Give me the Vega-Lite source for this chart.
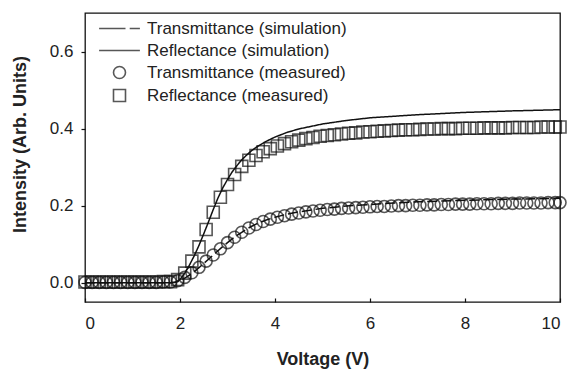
{
  "$schema": "https://vega.github.io/schema/vega-lite/v6.json",
  "width": 475,
  "height": 289,
  "autosize": {"type": "none"},
  "padding": {"left": 85, "top": 13, "right": 10, "bottom": 70},
  "background": "white",
  "config": {
    "font": "Liberation Sans",
    "view": {"stroke": "#111", "strokeWidth": 1.3},
    "axis": {
      "grid": false,
      "domain": false,
      "tickColor": "#111",
      "tickWidth": 1.2,
      "labelColor": "#222",
      "titleColor": "#222",
      "labelFont": "Liberation Sans",
      "titleFont": "Liberation Sans",
      "labelFontSize": 17,
      "labelFontWeight": "normal",
      "titleFontSize": 18,
      "titleFontWeight": "bold"
    },
    "legend": {
      "labelFont": "Liberation Sans",
      "labelFontSize": 17,
      "labelColor": "#222",
      "labelLimit": 0
    }
  },
  "datasets": {
    "sim": [
      {"v": 0, "Ts": 0, "Rs": 0},
      {"v": 1.8, "Ts": 0, "Rs": 0},
      {"v": 1.9, "Ts": 0.001, "Rs": 0.001},
      {"v": 2.0, "Ts": 0.005, "Rs": 0.008},
      {"v": 2.1, "Ts": 0.012, "Rs": 0.025},
      {"v": 2.2, "Ts": 0.02, "Rs": 0.046},
      {"v": 2.3, "Ts": 0.029, "Rs": 0.07},
      {"v": 2.4, "Ts": 0.039, "Rs": 0.097},
      {"v": 2.5, "Ts": 0.05, "Rs": 0.127},
      {"v": 2.6, "Ts": 0.061, "Rs": 0.158},
      {"v": 2.7, "Ts": 0.072, "Rs": 0.19},
      {"v": 2.8, "Ts": 0.083, "Rs": 0.22},
      {"v": 2.9, "Ts": 0.094, "Rs": 0.246},
      {"v": 3.0, "Ts": 0.104, "Rs": 0.268},
      {"v": 3.1, "Ts": 0.114, "Rs": 0.288},
      {"v": 3.2, "Ts": 0.123, "Rs": 0.304},
      {"v": 3.3, "Ts": 0.131, "Rs": 0.319},
      {"v": 3.4, "Ts": 0.139, "Rs": 0.331},
      {"v": 3.5, "Ts": 0.146, "Rs": 0.342},
      {"v": 3.6, "Ts": 0.152, "Rs": 0.351},
      {"v": 3.8, "Ts": 0.162, "Rs": 0.366},
      {"v": 4.0, "Ts": 0.17, "Rs": 0.378},
      {"v": 4.25, "Ts": 0.178, "Rs": 0.39},
      {"v": 4.5, "Ts": 0.184, "Rs": 0.399},
      {"v": 5.0, "Ts": 0.193, "Rs": 0.412},
      {"v": 5.5, "Ts": 0.199, "Rs": 0.421},
      {"v": 6.0, "Ts": 0.203, "Rs": 0.428},
      {"v": 6.5, "Ts": 0.207, "Rs": 0.432},
      {"v": 7.0, "Ts": 0.21, "Rs": 0.436},
      {"v": 8.0, "Ts": 0.214, "Rs": 0.442},
      {"v": 9.0, "Ts": 0.217, "Rs": 0.446},
      {"v": 10.0, "Ts": 0.219, "Rs": 0.449}
    ],
    "meas": [
      {"v": 0.0, "T": 0.001, "R": 0.002},
      {"v": 0.15, "T": 0.001, "R": 0.002},
      {"v": 0.3, "T": 0.001, "R": 0.002},
      {"v": 0.45, "T": 0.001, "R": 0.002},
      {"v": 0.6, "T": 0.001, "R": 0.002},
      {"v": 0.75, "T": 0.001, "R": 0.002},
      {"v": 0.9, "T": 0.001, "R": 0.002},
      {"v": 1.05, "T": 0.001, "R": 0.002},
      {"v": 1.2, "T": 0.001, "R": 0.002},
      {"v": 1.35, "T": 0.001, "R": 0.002},
      {"v": 1.5, "T": 0.001, "R": 0.002},
      {"v": 1.65, "T": 0.002, "R": 0.003},
      {"v": 1.8, "T": 0.002, "R": 0.003},
      {"v": 1.95, "T": 0.005, "R": 0.008},
      {"v": 2.1, "T": 0.014, "R": 0.025},
      {"v": 2.25, "T": 0.026, "R": 0.056},
      {"v": 2.4, "T": 0.04, "R": 0.093},
      {"v": 2.55, "T": 0.056, "R": 0.138},
      {"v": 2.7, "T": 0.072, "R": 0.183},
      {"v": 2.85, "T": 0.088, "R": 0.222},
      {"v": 3.0, "T": 0.104, "R": 0.255},
      {"v": 3.15, "T": 0.118, "R": 0.281},
      {"v": 3.3, "T": 0.131, "R": 0.302},
      {"v": 3.45, "T": 0.142, "R": 0.318},
      {"v": 3.6, "T": 0.151, "R": 0.33},
      {"v": 3.75, "T": 0.159, "R": 0.34},
      {"v": 3.9, "T": 0.165, "R": 0.348},
      {"v": 4.05, "T": 0.17, "R": 0.355},
      {"v": 4.2, "T": 0.174, "R": 0.361},
      {"v": 4.35, "T": 0.178, "R": 0.366},
      {"v": 4.5, "T": 0.181, "R": 0.37},
      {"v": 4.65, "T": 0.184, "R": 0.374},
      {"v": 4.8, "T": 0.186, "R": 0.377},
      {"v": 4.95, "T": 0.188, "R": 0.38},
      {"v": 5.1, "T": 0.19, "R": 0.382},
      {"v": 5.25, "T": 0.191, "R": 0.384},
      {"v": 5.4, "T": 0.193, "R": 0.386},
      {"v": 5.55, "T": 0.194, "R": 0.388},
      {"v": 5.7, "T": 0.195, "R": 0.389},
      {"v": 5.85, "T": 0.196, "R": 0.391},
      {"v": 6.0, "T": 0.197, "R": 0.392},
      {"v": 6.15, "T": 0.198, "R": 0.393},
      {"v": 6.3, "T": 0.198, "R": 0.394},
      {"v": 6.45, "T": 0.199, "R": 0.395},
      {"v": 6.6, "T": 0.2, "R": 0.396},
      {"v": 6.75, "T": 0.2, "R": 0.397},
      {"v": 6.9, "T": 0.201, "R": 0.397},
      {"v": 7.05, "T": 0.201, "R": 0.398},
      {"v": 7.2, "T": 0.202, "R": 0.399},
      {"v": 7.35, "T": 0.202, "R": 0.399},
      {"v": 7.5, "T": 0.203, "R": 0.4},
      {"v": 7.65, "T": 0.203, "R": 0.4},
      {"v": 7.8, "T": 0.204, "R": 0.4},
      {"v": 7.95, "T": 0.204, "R": 0.401},
      {"v": 8.1, "T": 0.204, "R": 0.401},
      {"v": 8.25, "T": 0.205, "R": 0.401},
      {"v": 8.4, "T": 0.205, "R": 0.402},
      {"v": 8.55, "T": 0.205, "R": 0.402},
      {"v": 8.7, "T": 0.206, "R": 0.402},
      {"v": 8.85, "T": 0.206, "R": 0.402},
      {"v": 9.0, "T": 0.206, "R": 0.403},
      {"v": 9.15, "T": 0.207, "R": 0.403},
      {"v": 9.3, "T": 0.207, "R": 0.403},
      {"v": 9.45, "T": 0.207, "R": 0.403},
      {"v": 9.6, "T": 0.207, "R": 0.404},
      {"v": 9.75, "T": 0.208, "R": 0.404},
      {"v": 9.9, "T": 0.208, "R": 0.404},
      {"v": 10.0, "T": 0.208, "R": 0.404}
    ]
  },
  "encoding": {
    "x": {
      "field": "v",
      "type": "quantitative",
      "scale": {"domain": [0, 10], "nice": false},
      "axis": {
        "values": [0, 2, 4, 6, 8, 10],
        "tickSize": -4,
        "labelPadding": 17,
        "title": "Voltage (V)",
        "titlePadding": 19
      }
    },
    "y": {
      "field": "val",
      "type": "quantitative",
      "scale": {"domain": [-0.05, 0.7], "nice": false, "zero": false},
      "axis": {
        "values": [0, 0.2, 0.4, 0.6],
        "format": ".1f",
        "tickSize": 4,
        "labelPadding": 8,
        "title": "Intensity (Arb. Units)",
        "titlePadding": 20,
        "titleY": 131
      }
    }
  },
  "layer": [
    {
      "data": {"name": "sim"},
      "transform": [{"fold": ["Ts", "Rs"], "as": ["s", "val"]}],
      "mark": {"type": "line", "color": "#111", "strokeWidth": 1.5},
      "encoding": {
        "strokeDash": {
          "field": "s",
          "type": "nominal",
          "scale": {"domain": ["Ts", "Rs"], "range": [[10, 4], [1, 0]]},
          "legend": null
        }
      }
    },
    {
      "data": {"name": "meas"},
      "transform": [{"fold": ["T", "R"], "as": ["s", "val"]}],
      "mark": {"type": "point", "filled": false, "color": "#111", "size": 144, "strokeWidth": 1.6, "clip": false},
      "encoding": {
        "shape": {
          "field": "s",
          "type": "nominal",
          "scale": {
            "domain": ["Ts", "Rs", "T", "R"],
            "range": ["M-3.4,0H1M1.7,0H3.4", "M-3.4,0H3.4", "circle", "square"]
          },
          "legend": {
            "orient": "none",
            "legendX": 26,
            "legendY": 7,
            "title": null,
            "padding": 0,
            "symbolSize": 144,
            "symbolStrokeWidth": 1.6,
            "symbolStrokeColor": "#111",
            "symbolFillColor": "transparent",
            "labelOffset": 19,
            "rowPadding": 4,
            "labelExpr": "datum.label == 'Ts' ? 'Transmittance (simulation)' : datum.label == 'Rs' ? 'Reflectance (simulation)' : datum.label == 'T' ? 'Transmittance (measured)' : 'Reflectance (measured)'"
          }
        }
      }
    }
  ]
}
